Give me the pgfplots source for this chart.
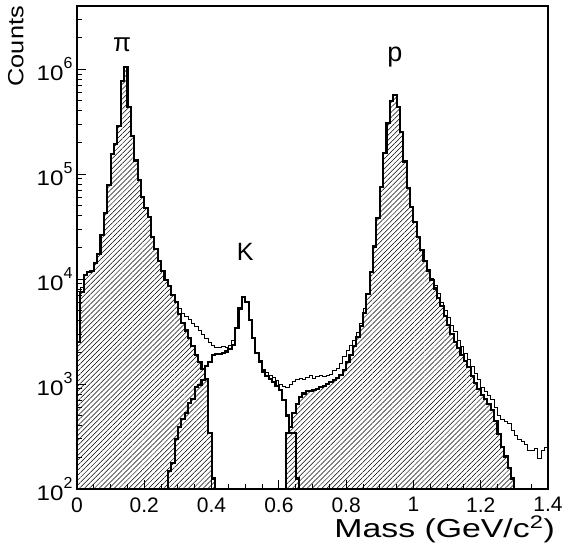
\documentclass[border=0pt]{standalone}
\usepackage{pgfplots}
\pgfplotsset{compat=1.18}
\usepackage{pgfplotstable}
\usepackage{graphicx}
\usepackage{fontspec}
\setmainfont{Liberation Sans}
\usetikzlibrary{patterns.meta}

% power-of-ten tick label, ROOT style (big raised exponent)
\newcommand{\tp}[1]{\scalebox{1.15}[1]{10}\raisebox{0.55em}{\fontsize{16}{16}\selectfont#1}}

% bin left edge, counts (last row repeats the last bin at its right edge)
\pgfplotstableread{
x n
0.00 2512
0.01 7586
0.02 10960
0.03 11750
0.04 12020
0.05 14130
0.06 17380
0.07 26300
0.08 42660
0.09 79430
0.10 154900
0.11 195000
0.12 288400
0.13 776200
0.14 1047000
0.15 436500
0.16 229100
0.17 134900
0.18 87100
0.19 60260
0.20 47860
0.21 38900
0.22 25120
0.23 19500
0.24 14790
0.25 12020
0.26 9772
0.27 8511
0.28 7079
0.29 6026
0.30 4677
0.31 3802
0.32 3236
0.33 2754
0.34 2291
0.35 1905
0.36 1622
0.37 1380
0.38 1122
0.39 339
0.40 126
0.41 126
}\pion

\pgfplotstableread{
x n
0.27 148
0.28 178
0.29 302
0.30 389
0.31 468
0.32 525
0.33 661
0.34 724
0.35 933
0.36 977
0.37 1096
0.38 1479
0.39 1622
0.40 1905
0.41 1950
0.42 1950
0.43 1995
0.44 2042
0.45 2138
0.46 2344
0.47 3388
0.48 5248
0.49 6761
0.50 6026
0.51 4074
0.52 2754
0.53 1995
0.54 1622
0.55 1318
0.56 1202
0.57 1122
0.58 1047
0.59 955
0.60 871
0.61 708
0.62 501
0.63 339
0.64 339
0.65 126
0.66 126
}\kaon

\pgfplotstableread{
x n
0.62 339
0.63 389
0.64 525
0.65 646
0.66 759
0.67 813
0.68 851
0.69 851
0.70 871
0.71 891
0.72 933
0.73 955
0.74 1000
0.75 1047
0.76 1096
0.77 1148
0.78 1230
0.79 1349
0.80 1622
0.81 1905
0.82 2291
0.83 2818
0.84 3548
0.85 4786
0.86 7244
0.87 11750
0.88 20420
0.89 38020
0.90 75860
0.91 158500
0.92 309000
0.93 501200
0.94 562300
0.95 436500
0.96 251200
0.97 131800
0.98 74130
0.99 48980
1.00 34670
1.01 25120
1.02 19050
1.03 14790
1.04 12020
1.05 9772
1.06 8128
1.07 6607
1.08 5495
1.09 4467
1.10 3631
1.11 3020
1.12 2512
1.13 2188
1.14 1905
1.15 1660
1.16 1445
1.17 1202
1.18 1023
1.19 891
1.20 794
1.21 724
1.22 646
1.23 562
1.24 447
1.25 331
1.26 251
1.27 204
1.28 158
1.29 126
1.30 126
}\proton

\pgfplotstableread{
x n
0.00 7586
0.01 8318
0.02 10960
0.03 11750
0.04 12020
0.05 14130
0.06 17380
0.07 26300
0.08 42660
0.09 79430
0.10 154900
0.11 195000
0.12 288400
0.13 776200
0.14 1047000
0.15 436500
0.16 229100
0.17 134900
0.18 87100
0.19 60260
0.20 47860
0.21 38900
0.22 25120
0.23 19500
0.24 14790
0.25 12020
0.26 9772
0.27 8511
0.28 7079
0.29 6026
0.30 5248
0.31 4677
0.32 4365
0.33 4169
0.34 3802
0.35 3548
0.36 3236
0.37 2951
0.38 2692
0.39 2512
0.40 2344
0.41 2239
0.42 2239
0.43 2291
0.44 2239
0.45 2344
0.46 2630
0.47 3388
0.48 5248
0.49 6761
0.50 6026
0.51 4074
0.52 2754
0.53 1995
0.54 1660
0.55 1380
0.56 1288
0.57 1202
0.58 1148
0.59 1072
0.60 1000
0.61 955
0.62 933
0.63 1000
0.64 1047
0.65 1096
0.66 1122
0.67 1096
0.68 1148
0.69 1202
0.70 1122
0.71 1175
0.72 1202
0.73 1175
0.74 1202
0.75 1230
0.76 1349
0.77 1413
0.78 1585
0.79 1820
0.80 2089
0.81 2344
0.82 2630
0.83 3090
0.84 3802
0.85 5248
0.86 7244
0.87 11750
0.88 20420
0.89 38020
0.90 75860
0.91 158500
0.92 309000
0.93 501200
0.94 562300
0.95 436500
0.96 251200
0.97 131800
0.98 74130
0.99 48980
1.00 34670
1.01 25120
1.02 19050
1.03 14790
1.04 12300
1.05 10230
1.06 8710
1.07 7244
1.08 6026
1.09 5012
1.10 4266
1.11 3631
1.12 3162
1.13 2630
1.14 2291
1.15 1950
1.16 1698
1.17 1479
1.18 1259
1.19 1096
1.20 933
1.21 851
1.22 776
1.23 708
1.24 603
1.25 501
1.26 457
1.27 437
1.28 417
1.29 363
1.30 324
1.31 295
1.32 282
1.33 263
1.34 234
1.35 234
1.36 245
1.37 195
1.38 234
1.39 251
1.40 251
}\total

\begin{document}
\begin{tikzpicture}
\begin{axis}[
  name=ax,
  scale only axis, width=471pt, height=483pt,
  xmin=0, xmax=1.4,
  ymode=log, ymin=100, ymax=4e6,
  axis line style={line width=1.4pt},
  tick pos=left, tick align=inside,
  major tick length=9pt, minor tick length=5pt,
  every tick/.style={black, line width=0.9pt},
  xtick={0,0.2,0.4,0.6,0.8,1,1.2,1.4},
  xticklabels={0,0.2,0.4,0.6,0.8,1,1.2,1.4},
  minor x tick num=3,
  ytick={1e2,1e3,1e4,1e5,1e6},
  yticklabels={\tp{2},\tp{3},\tp{4},\tp{5},\tp{6}},
  minor ytick={200,300,400,500,600,700,800,900,2000,3000,4000,5000,6000,7000,8000,9000,
    20000,30000,40000,50000,60000,70000,80000,90000,200000,300000,400000,500000,600000,700000,800000,900000,
    2000000,3000000,4000000},
  tick label style={font=\fontsize{21}{21}\selectfont},
  xticklabel style={yshift=-5pt},
  yticklabel style={xshift=-1pt},
  xlabel={\scalebox{1.3}[1]{Mass (GeV/c\textsuperscript{2})}},
  xlabel style={at={(rel axis cs:1.015,0)}, anchor=north east, yshift=-27pt,
    inner sep=0pt, font=\fontsize{26}{26}\selectfont},
  ylabel={\scalebox{1.15}[1]{Counts}},
  ylabel style={at={(rel axis cs:-0.13,1)}, anchor=east, inner sep=0pt,
    font=\fontsize{22}{22}\selectfont},
]
\addplot[const plot, black, line width=0.9pt] table[x=x, y=n] {\total};
\addplot[const plot, draw=black, line width=2.1pt,
  pattern={Lines[angle=45, distance=3.5pt, line width=0.5pt]}] table[x=x, y=n] {\pion} \closedcycle;
\addplot[const plot, draw=black, line width=2.1pt,
  pattern={Lines[angle=45, distance=3.5pt, line width=0.5pt]}] table[x=x, y=n] {\proton} \closedcycle;
\addplot[const plot, draw=black, line width=2.1pt] table[x=x, y=n] {\kaon} \closedcycle;
\node[font=\fontsize{26}{26}\selectfont] at (axis cs:0.134,1.7e6) {π};
\node[font=\fontsize{25}{25}\selectfont] at (axis cs:0.5,1.8e4) {K};
\node[font=\fontsize{27}{27}\selectfont] at (axis cs:0.945,1.3e6) {p};
\end{axis}
\pgfresetboundingbox
\path ([shift={(-77pt,-59pt)}]ax.south west) rectangle ([shift={(17pt,6pt)}]ax.north east);
\end{tikzpicture}
\end{document}
